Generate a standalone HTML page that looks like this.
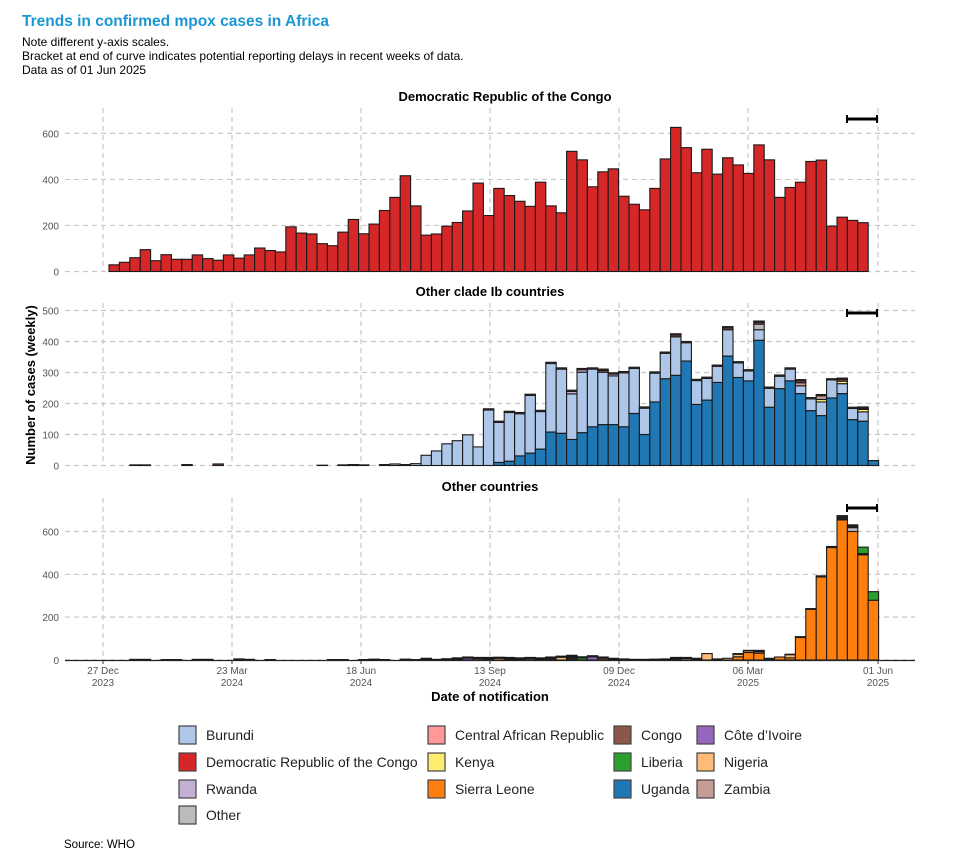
<!DOCTYPE html>
<html><head><meta charset="utf-8"><style>
body{margin:0;background:#fff;font-family:"Liberation Sans",Arial,sans-serif;}
svg text{font-family:"Liberation Sans",Arial,sans-serif;}
</style></head><body>
<svg id="s" width="978" height="853" xmlns="http://www.w3.org/2000/svg">
<text x="22" y="26" font-size="15.5" font-weight="bold" fill="#1a96d4">Trends in confirmed mpox cases in Africa</text>
<text x="22" y="46" font-size="12" fill="#000">Note different y-axis scales.</text>
<text x="22" y="60" font-size="12" fill="#000">Bracket at end of curve indicates potential reporting delays in recent weeks of data.</text>
<text x="22" y="74" font-size="12" fill="#000">Data as of 01 Jun 2025</text>
<text x="505" y="101" font-size="13" font-weight="bold" text-anchor="middle">Democratic Republic of the Congo</text>
<text x="490" y="296" font-size="13" font-weight="bold" text-anchor="middle">Other clade Ib countries</text>
<text x="490" y="491" font-size="13" font-weight="bold" text-anchor="middle">Other countries</text>
<text transform="translate(35,385) rotate(-90)" font-size="13" font-weight="bold" text-anchor="middle">Number of cases (weekly)</text>
<text x="490" y="701" font-size="13" font-weight="bold" text-anchor="middle">Date of notification</text>
<text x="64" y="848" font-size="11.5">Source: WHO</text>
<g id="g"></g>
</svg>
<script>
const NS="http://www.w3.org/2000/svg",g=document.getElementById('g');
function el(t,a,txt){const e=document.createElementNS(NS,t);for(const k in a)e.setAttribute(k,a[k]);if(txt!==undefined)e.textContent=txt;g.appendChild(e);return e;}
const C={bur:"#aec7e8",drc:"#d62728",rw:"#c5b0d5",oth:"#bbbbbb",car:"#ff9896",ken:"#ffed6f",sl:"#ff7f0e",con:"#8c564b",lib:"#2ca02c",ug:"#1f77b4",civ:"#9467bd",nig:"#ffbb78",zam:"#c49c94",blk:"#222222"};
const gx=[103,232,361,490,619,748,878];
function panel(y0,k,ticks,top){
  for(const x of gx) el('line',{x1:x,x2:x,y1:top,y2:y0,stroke:"#c8c8c8","stroke-dasharray":"5,4","stroke-width":1.2});
  for(const t of ticks){const y=y0-t*k;el('line',{x1:65,x2:915,y1:y,y2:y,stroke:"#c8c8c8","stroke-dasharray":"5,4","stroke-width":1.2});
    el('text',{x:59,y:y+4,"font-size":10,fill:"#555","text-anchor":"end"},t);}
}
function bars(y0,k,data){
  data.forEach((segs,i)=>{let x=109+i*10.4,acc=0;
    for(const [v,c] of segs){if(v<=0)continue;const h=v*k;el('rect',{x:x,y:y0-acc-h,width:10.4,height:h,fill:C[c],stroke:"#1a1a1a","stroke-width":1.1});acc+=h;}
  });
}
function bracket(y){el('line',{x1:846,x2:878,y1:y,y2:y,stroke:"#000","stroke-width":3});
 el('line',{x1:847,x2:847,y1:y-4,y2:y+4,stroke:"#000","stroke-width":2});el('line',{x1:877,x2:877,y1:y-4,y2:y+4,stroke:"#000","stroke-width":2});}
panel(271.5,0.2302,[0,200,400,600],108);
const drc=[29,40,60,95,47,73,53,53,72,56,49,72,58,72,102,91,85,194,167,163,121,112,171,226,164,206,265,322,416,285,158,163,197,213,263,384,243,361,330,305,283,388,285,255,522,485,368,433,446,327,292,268,361,489,626,538,429,531,423,494,463,426,550,485,322,365,388,478,484,197,236,222,212];
bars(271.5,0.2302,drc.map(v=>[[v,'drc']]));
bracket(119);
panel(465.5,0.31,[0,100,200,300,400,500],303);
const tot=[0,0,2,2,0,0,0,3,0,0,5,0,0,0,0,0,0,0,0,0,1,0,2,3,2,0,3,5,3,6,33,47,70,80,99,60,183,143,175,171,230,178,333,315,243,313,315,311,299,303,317,189,302,366,425,400,278,285,324,448,335,309,466,253,292,315,277,219,229,280,282,188,189,16];
const ug=[0,0,0,0,0,0,0,0,0,0,0,0,0,0,0,0,0,0,0,0,0,0,0,0,0,0,0,0,0,0,0,0,0,0,0,0,0,10,14,31,40,53,108,104,84,106,125,132,132,125,168,100,205,280,291,337,197,211,268,353,284,273,404,188,248,273,232,177,161,218,232,148,143,16];
const extra={44:[[8,'rw']],45:[[8,'rw']],47:[[6,'con']],48:[[6,'rw']],54:[[6,'con']],59:[[6,'con']],62:[[18,'oth'],[6,'con']],66:[[10,'zam'],[6,'con']],68:[[8,'ken'],[12,'zam']],70:[[8,'ken'],[6,'con']],72:[[8,'ken'],[4,'con']]};
const d2=tot.map((t,i)=>{const e=extra[i]||[];let es=e.reduce((a,b)=>a+b[0],0);const cap=(i>=36&&i<73)?4:0;
 let b=Math.max(0,t-ug[i]-es-cap);
 if(i<29) return [[t,i==10?'con':'bur']];
 return [[ug[i],'ug'],[b,'bur'],...e,[cap,'con']];});
bars(465.5,0.31,d2);
bracket(313);
panel(660,0.2142,[0,200,400,600],498);
const p3=[0,0,3,3,0,2,2,0,3,3,0,0,5,3,0,2,0,0,0,0,0,2,2,0,2,4,2,0,4,2,8,3,6,10,14,12,12,13,12,10,12,10,14,18,22,15,20,14,8,5,3,3,4,5,12,12,8];
const cols=['blk','nig','blk','lib','civ','con'];
const d3=p3.map((v,i)=>{if(v>6){const c=cols[i%6];return [[v-5,c],[5,'blk']];}return [[v,'blk']];});
d3.push([[30,'nig']],[[5,'blk']],[[8,'nig']],[[15,'sl'],[12,'nig'],[3,'con']],[[35,'sl'],[8,'nig'],[2,'con']],[[32,'sl'],[8,'con'],[5,'nig']],[[8,'blk']],[[14,'sl']],[[10,'sl'],[15,'nig'],[2,'con']],
 [[105,'sl'],[4,'blk']],[[236,'sl'],[4,'blk']],[[388,'sl'],[5,'blk']],[[525,'sl'],[5,'blk']],[[654,'sl'],[20,'blk']],[[600,'sl'],[18,'oth'],[13,'blk']],[[491,'sl'],[6,'blk'],[30,'lib']],[[279,'sl'],[40,'lib']]);
bars(660,0.2142,d3);
el('line',{x1:65,x2:915,y1:660.5,y2:660.5,stroke:"#222","stroke-width":1.3});
bracket(508);
const lab=[["27 Dec","2023"],["23 Mar","2024"],["18 Jun","2024"],["13 Sep","2024"],["09 Dec","2024"],["06 Mar","2025"],["01 Jun","2025"]];
gx.forEach((x,i)=>{el('line',{x1:x,x2:x,y1:660,y2:664,stroke:"#333"});
 el('text',{x:x,y:674,"font-size":10,fill:"#555","text-anchor":"middle"},lab[i][0]);
 el('text',{x:x,y:686,"font-size":10,fill:"#555","text-anchor":"middle"},lab[i][1]);});
const L=[[179,735,'bur','Burundi'],[428,735,'car','Central African Republic'],[614,735,'con','Congo'],[697,735,'civ','Côte d’Ivoire'],
[179,762,'drc','Democratic Republic of the Congo'],[428,762,'ken','Kenya'],[614,762,'lib','Liberia'],[697,762,'nig','Nigeria'],
[179,789,'rw','Rwanda'],[428,789,'sl','Sierra Leone'],[614,789,'ug','Uganda'],[697,789,'zam','Zambia'],[179,815,'oth','Other']];
for(const [x,y,c,t] of L){el('rect',{x:x,y:y-9,width:17,height:18,fill:C[c],stroke:"#444","stroke-width":1.2});
 el('text',{x:x+27,y:y+5,"font-size":13.9,fill:"#222"},t);}
</script>
</body></html>
